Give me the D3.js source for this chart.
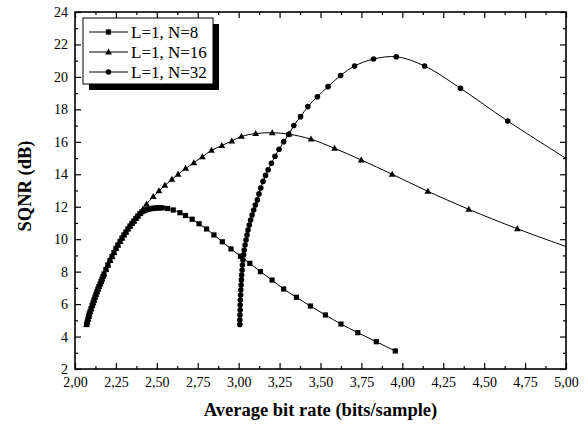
<!DOCTYPE html>
<html><head><meta charset="utf-8">
<script src="https://cdn.jsdelivr.net/npm/d3@7"></script>
<style>body{margin:0;background:#fff}svg{display:block}text{font-family:"Liberation Serif","Times New Roman",serif}</style>
</head><body><svg id="c" width="587" height="425"></svg>
<script>
// ---- data ----
const seriesNames = ["L=1, N=8", "L=1, N=16", "L=1, N=32"];
const xTicks = [2, 2.25, 2.5, 2.75, 3, 3.25, 3.5, 3.75, 4, 4.25, 4.5, 4.75, 5];
const xTickLabels = ["2,00","2,25","2,50","2,75","3,00","3,25","3,50","3,75","4,00","4,25","4,50","4,75","5,00"];
const yTicks = [2, 4, 6, 8, 10, 12, 14, 16, 18, 20, 22, 24];
const yTickLabels = ["2","4","6","8","10","12","14","16","18","20","22","24"];

// common rising branch (N=8 and N=16 overlap)
const risingX = [2.071,2.075,2.079,2.084,2.087,2.092,2.098,2.104,2.110,2.116,2.122,2.128,2.134,2.140,2.146,2.153,2.159,2.165,2.171,2.177,2.189,2.201,2.214,2.226,2.238,2.250,2.262,2.275,2.287,2.299,2.311,2.323,2.336,2.348,2.360,2.372,2.384,2.397];
const risingY = [4.74,4.90,5.07,5.24,5.39,5.53,5.71,5.90,6.07,6.25,6.43,6.59,6.76,6.93,7.08,7.24,7.39,7.55,7.70,7.85,8.13,8.41,8.69,8.93,9.18,9.43,9.64,9.86,10.07,10.26,10.44,10.63,10.81,10.97,11.12,11.28,11.43,11.58];

const n8X = [2.409,2.421,2.433,2.445,2.458,2.470,2.482,2.494,2.506,2.519,2.533,2.566,2.600,2.641,2.675,2.716,2.758,2.804,2.849,2.900,2.953,3.011,3.068,3.133,3.204,3.275,3.353,3.438,3.530,3.625,3.728,3.841,3.957];
const n8Y = [11.69,11.75,11.80,11.84,11.87,11.89,11.91,11.92,11.93,11.93,11.93,11.89,11.80,11.63,11.46,11.23,10.95,10.63,10.26,9.84,9.40,8.95,8.51,8.00,7.48,6.93,6.42,5.88,5.33,4.77,4.24,3.68,3.11];

const n16X = [2.415,2.437,2.478,2.513,2.549,2.592,2.630,2.676,2.726,2.778,2.834,2.897,2.958,3.017,3.104,3.205,3.308,3.442,3.586,3.749,3.938,4.156,4.406,4.703,5.040];
const n16Y = [11.85,12.16,12.62,12.98,13.31,13.68,14.00,14.36,14.71,15.08,15.47,15.77,16.05,16.33,16.51,16.56,16.47,16.16,15.60,14.88,14.00,12.95,11.84,10.64,9.40];

const n32X = [3.007,3.007,3.008,3.009,3.009,3.010,3.012,3.013,3.015,3.017,3.018,3.021,3.023,3.026,3.030,3.034,3.039,3.045,3.051,3.057,3.065,3.073,3.082,3.092,3.102,3.114,3.124,3.135,3.149,3.164,3.180,3.200,3.222,3.247,3.275,3.306,3.337,3.378,3.423,3.481,3.546,3.623,3.708,3.824,3.963,4.136,4.355,4.644,5.020];
const n32Y = [4.74,5.02,5.33,5.64,5.94,6.25,6.56,6.87,7.18,7.49,7.79,8.10,8.41,8.72,9.03,9.33,9.64,9.95,10.26,10.57,10.87,11.18,11.49,11.80,12.11,12.42,12.79,13.15,13.56,13.93,14.28,14.68,15.11,15.54,16.01,16.46,17.01,17.55,18.17,18.78,19.40,20.09,20.67,21.10,21.24,20.67,19.30,17.28,14.85];

// ---- chart ----
const L = 75, R = 566, T = 12, B = 369;
const x = d3.scaleLinear().domain([2, 5]).range([L, R]);
const y = d3.scaleLinear().domain([2, 24]).range([B, T]);
const svg = d3.select("#c");

svg.append("defs").append("clipPath").attr("id", "clip")
  .append("rect").attr("x", L).attr("y", T).attr("width", R - L).attr("height", B - T);

const zip = (a, b) => a.map((v, i) => [v, b[i]]);
const data = [
  zip(risingX.concat(n8X), risingY.concat(n8Y)),
  zip(risingX.concat(n16X), risingY.concat(n16Y)),
  zip(n32X, n32Y)
];
const shapes = ["square", "triangle", "circle"];

function marker(g, shape) {
  if (shape === "square") g.append("rect").attr("x", -2.6).attr("y", -2.6).attr("width", 5.2).attr("height", 5.2).attr("fill", "#000");
  else if (shape === "triangle") g.append("path").attr("d", "M0,-3.6L3.4,2.4L-3.4,2.4Z").attr("fill", "#000");
  else g.append("circle").attr("r", 2.8).attr("fill", "#000");
}

const xMinor = xTicks.slice(0, -1).map(v => v + 0.125);
const yMinor = yTicks.slice(0, -1).map(v => v + 1);

function styleAxis(g) {
  g.select(".domain").remove();
  g.selectAll("line").attr("stroke", "#000").attr("stroke-width", 1.2);
  g.selectAll("text").attr("font-family", "'Liberation Serif','Times New Roman',serif").attr("font-size", 14).attr("fill", "#000");
}

svg.append("g").attr("transform", `translate(0,${B})`)
  .call(d3.axisBottom(x).tickValues(xTicks).tickFormat((d, i) => xTickLabels[i]).tickSize(-6).tickPadding(8)).call(styleAxis);
svg.append("g").attr("transform", `translate(0,${B})`)
  .call(d3.axisBottom(x).tickValues(xMinor).tickFormat("").tickSize(-3)).call(styleAxis);
svg.append("g").attr("transform", `translate(0,${T})`)
  .call(d3.axisTop(x).tickValues(xTicks).tickFormat("").tickSize(-6)).call(styleAxis);
svg.append("g").attr("transform", `translate(0,${T})`)
  .call(d3.axisTop(x).tickValues(xMinor).tickFormat("").tickSize(-3)).call(styleAxis);

svg.append("g").attr("transform", `translate(${L},0)`)
  .call(d3.axisLeft(y).tickValues(yTicks).tickFormat((d, i) => yTickLabels[i]).tickSize(-6).tickPadding(7)).call(styleAxis);
svg.append("g").attr("transform", `translate(${L},0)`)
  .call(d3.axisLeft(y).tickValues(yMinor).tickFormat("").tickSize(-3)).call(styleAxis);
svg.append("g").attr("transform", `translate(${R},0)`)
  .call(d3.axisRight(y).tickValues(yTicks).tickFormat("").tickSize(-6)).call(styleAxis);
svg.append("g").attr("transform", `translate(${R},0)`)
  .call(d3.axisRight(y).tickValues(yMinor).tickFormat("").tickSize(-3)).call(styleAxis);

// frame
svg.append("rect").attr("x", L).attr("y", T).attr("width", R - L).attr("height", B - T)
  .attr("fill", "none").attr("stroke", "#000").attr("stroke-width", 1.6);

// series
const line = d3.line().x(d => x(d[0])).y(d => y(d[1])).curve(d3.curveCatmullRom.alpha(0.5));
const plot = svg.append("g").attr("clip-path", "url(#clip)");
data.forEach((s, k) => {
  plot.append("path").attr("d", line(s)).attr("fill", "none").attr("stroke", "#000").attr("stroke-width", 1);
  s.forEach(p => {
    const g = plot.append("g").attr("transform", `translate(${x(p[0])},${y(p[1])})`);
    marker(g, shapes[k]);
  });
});

// legend
const lg = svg.append("g");
lg.append("rect").attr("x", 89).attr("y", 24).attr("width", 130).attr("height", 66).attr("fill", "#000");
lg.append("rect").attr("x", 83).attr("y", 18).attr("width", 130).attr("height", 66).attr("fill", "#fff").attr("stroke", "#000").attr("stroke-width", 1);
seriesNames.forEach((n, i) => {
  const yy = 32 + i * 20;
  lg.append("line").attr("x1", 89).attr("x2", 128).attr("y1", yy).attr("y2", yy).attr("stroke", "#000").attr("stroke-width", 1);
  marker(lg.append("g").attr("transform", `translate(108.5,${yy})`), shapes[i]);
  lg.append("text").attr("x", 131).attr("y", yy + 6).attr("font-size", 17).attr("fill", "#000").text(n);
});

// axis titles
svg.append("text").attr("x", (L + R) / 2).attr("y", 416).attr("text-anchor", "middle")
  .attr("font-size", 18.5).attr("font-weight", "bold").attr("fill", "#000").text("Average bit rate (bits/sample)");
svg.append("text").attr("transform", `translate(31,186) rotate(-90)`).attr("text-anchor", "middle")
  .attr("font-size", 18.5).attr("font-weight", "bold").attr("fill", "#000").text("SQNR (dB)");
</script></body></html>
